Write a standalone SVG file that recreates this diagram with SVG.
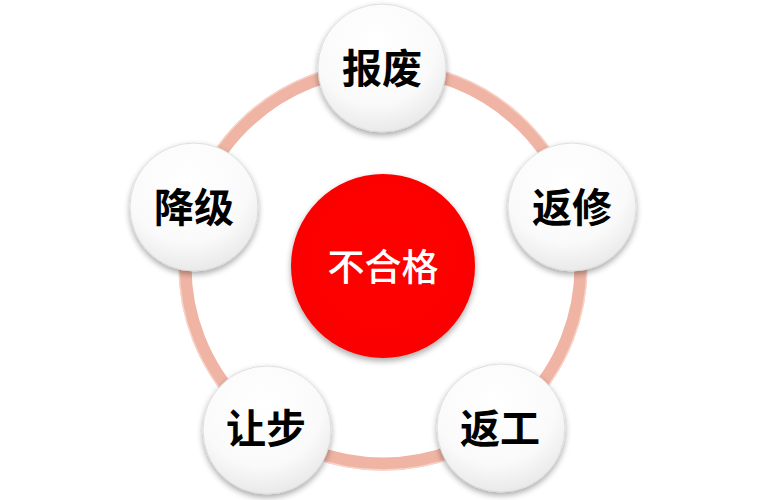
<svg xmlns="http://www.w3.org/2000/svg" width="766" height="500" viewBox="0 0 766 500">
<defs>
<radialGradient id="wg" cx="0.45" cy="0.3" r="0.8">
<stop offset="0" stop-color="#ffffff"/>
<stop offset="0.6" stop-color="#fafafa"/>
<stop offset="1" stop-color="#e2e2e2"/>
</radialGradient>
<radialGradient id="rg" cx="0.5" cy="0.45" r="0.6">
<stop offset="0" stop-color="#ff0000"/>
<stop offset="0.9" stop-color="#fb0000"/>
<stop offset="1" stop-color="#e80000"/>
</radialGradient>
<filter id="sh" x="-20%" y="-20%" width="140%" height="140%">
<feGaussianBlur in="SourceAlpha" stdDeviation="3"/>
<feOffset dx="0" dy="3" result="b"/>
<feComponentTransfer><feFuncA type="linear" slope="0.35"/></feComponentTransfer>
<feMerge><feMergeNode/><feMergeNode in="SourceGraphic"/></feMerge>
</filter>
</defs>
<style>
.node{fill:url(#wg);stroke:#d8d8d8;stroke-width:0.8;filter:url(#sh)}
.lbl{font-family:"Noto Sans CJK SC","Noto Sans CJK JP",sans-serif;font-size:40px;font-weight:bold;fill:#000;text-anchor:middle;dominant-baseline:central}
.clbl{font-family:"Noto Sans CJK SC","Noto Sans CJK JP",sans-serif;font-size:37px;font-weight:500;fill:#fff;text-anchor:middle;dominant-baseline:central}
</style>
<rect width="766" height="500" fill="#ffffff"/>
<g id="connectors">
<circle cx="383" cy="266" r="198" fill="none" stroke="#f0b4a4" stroke-width="13"/>
<circle cx="383" cy="266" r="204" fill="none" stroke="#f7d4ca" stroke-width="1.5"/>
</g>
<g id="center">
<circle cx="383" cy="266" r="92" fill="url(#rg)" filter="url(#sh)"/>
<text class="clbl" x="383" y="265">不合格</text>
</g>
<g id="n-baofei">
<circle class="node" cx="382" cy="68" r="64"/>
<text class="lbl" x="382" y="66">报废</text>
</g>
<g id="n-fanxiu">
<circle class="node" cx="572" cy="207" r="64"/>
<text class="lbl" x="572" y="205">返修</text>
</g>
<g id="n-fangong">
<circle class="node" cx="501" cy="428" r="64"/>
<text class="lbl" x="500" y="426">返工</text>
</g>
<g id="n-rangbu">
<circle class="node" cx="267" cy="430" r="64"/>
<text class="lbl" x="266" y="426">让步</text>
</g>
<g id="n-jiangji">
<circle class="node" cx="194" cy="207" r="64"/>
<text class="lbl" x="194" y="205">降级</text>
</g>
</svg>
